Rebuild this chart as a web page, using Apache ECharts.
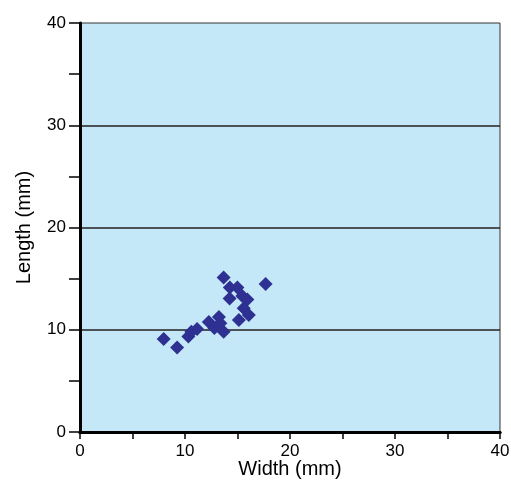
<!DOCTYPE html>
<html><head><meta charset="utf-8">
<script src="https://cdn.jsdelivr.net/npm/echarts@6/dist/echarts.min.js"></script>
<style>html,body{margin:0;padding:0;background:#fff}#c{width:511px;height:485px}</style>
</head><body><div id="c"></div>
<script>
var widthMm  = [7.97, 9.25, 10.32, 10.61, 11.15, 12.27, 12.80, 13.23, 13.37, 13.68, 13.68, 14.27, 14.99, 14.25, 15.46, 15.94, 15.59, 16.08, 15.13, 17.68];
var lengthMm = [9.10, 8.26, 9.34, 9.81, 10.07, 10.76, 10.17, 11.25, 10.63, 9.81, 15.11, 14.13, 14.13, 13.06, 13.30, 12.96, 12.10, 11.44, 10.95, 14.47];
var axisTicks = [0, 10, 20, 30, 40];
var xName = 'Width (mm)';
var yName = 'Length (mm)';

var pts = widthMm.map(function (w, i) { return [w, lengthMm[i]]; });
var font = 'Liberation Sans, Arial, sans-serif';
var chart = echarts.init(document.getElementById('c'), null, {renderer: 'canvas'});
chart.setOption({
  animation: false,
  grid: {left: 80, right: 11, top: 23, bottom: 53, outerBoundsMode: 'none', containLabel: false,
         show: true, backgroundColor: '#c5e8f8', borderColor: '#333', borderWidth: 1},
  xAxis: [{
    type: 'value', min: axisTicks[0], max: axisTicks[axisTicks.length - 1], interval: 10,
    name: xName, nameLocation: 'middle', nameGap: 27, nameMoveOverlap: false,
    nameTextStyle: {fontFamily: font, fontSize: 20, color: '#000'},
    axisLine: {show: true, onZero: false, lineStyle: {color: '#000', width: 3}},
    axisTick: {show: true, length: 7, lineStyle: {color: '#000', width: 1.5}},
    minorTick: {show: true, splitNumber: 2, length: 7, lineStyle: {color: '#000', width: 1.5}},
    axisLabel: {fontFamily: font, fontSize: 17, color: '#000', margin: 11},
    splitLine: {show: false}
  }, {
    type: 'value', position: 'top', min: 0, max: 40,
    axisLine: {show: true, lineStyle: {color: '#000', width: 3}},
    axisTick: {show: false}, axisLabel: {show: false}, splitLine: {show: false}
  }],
  yAxis: {
    type: 'value', min: axisTicks[0], max: axisTicks[axisTicks.length - 1], interval: 10,
    name: yName, nameLocation: 'middle', nameGap: 46, nameMoveOverlap: false,
    nameTextStyle: {fontFamily: font, fontSize: 20, color: '#000'},
    axisLine: {show: true, onZero: false, lineStyle: {color: '#000', width: 3}},
    axisTick: {show: true, length: 11, lineStyle: {color: '#000', width: 1.5}},
    minorTick: {show: true, splitNumber: 2, length: 11, lineStyle: {color: '#000', width: 1.5}},
    axisLabel: {fontFamily: font, fontSize: 17, color: '#000', margin: 14},
    splitLine: {show: true, showMinLine: false, showMaxLine: false, lineStyle: {color: '#222', width: 1.5}}
  },
  series: [{
    type: 'scatter', data: pts, symbol: 'diamond', symbolSize: 14,
    itemStyle: {color: '#2e3192', opacity: 1}
  }]
});
</script></body></html>
